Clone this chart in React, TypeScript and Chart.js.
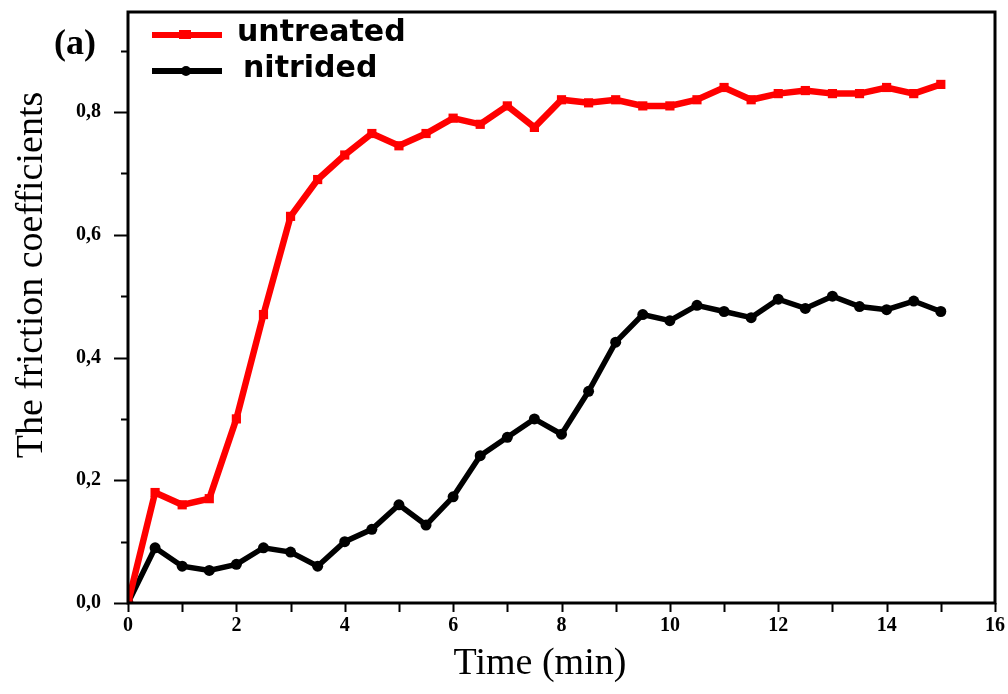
import React, { useEffect, useRef } from "react";
import { Chart, registerables } from "chart.js";

Chart.register(...registerables);

const timeMin = [0, 0.5, 1, 1.5, 2, 2.5, 3, 3.5, 4, 4.5, 5, 5.5, 6, 6.5, 7, 7.5, 8, 8.5, 9, 9.5, 10, 10.5, 11, 11.5, 12, 12.5, 13, 13.5, 14, 14.5, 15];
const untreated = [0, 0.18, 0.16, 0.17, 0.3, 0.47, 0.63, 0.69, 0.73, 0.765, 0.745, 0.765, 0.79, 0.78, 0.81, 0.775, 0.82, 0.815, 0.82, 0.81, 0.81, 0.82, 0.84, 0.82, 0.83, 0.835, 0.83, 0.83, 0.84, 0.83, 0.845];
const nitrided = [0, 0.09, 0.06, 0.053, 0.063, 0.09, 0.083, 0.06, 0.1, 0.12, 0.16, 0.127, 0.173, 0.24, 0.27, 0.3, 0.275, 0.345, 0.425, 0.47, 0.46, 0.485, 0.475, 0.465, 0.495, 0.48, 0.5, 0.483, 0.478, 0.492, 0.475];
const xTickValues = [0, 1, 2, 3, 4, 5, 6, 7, 8, 9, 10, 11, 12, 13, 14, 15, 16];
const yTickValues = [0, 0.1, 0.2, 0.3, 0.4, 0.5, 0.6, 0.7, 0.8, 0.9];
const seriesNames = ["untreated", "nitrided"];
const seriesColors = ["#ff0000", "#000000"];
const panelLabel = "(a)";
const xTitle = "Time (min)";
const yTitle = "The friction coefficients";

const isMajorY = (v: number) => Math.round(v * 10) % 2 === 0;

const decor = {
  id: "decor",
  afterDraw(chart: any) {
    const { ctx, chartArea: a, scales } = chart;
    const xs = scales.x;
    const ys = scales.y;
    ctx.save();
    ctx.strokeStyle = "#000";
    ctx.lineWidth = 3;
    ctx.strokeRect(a.left, a.top, a.right - a.left, a.bottom - a.top);
    ctx.lineWidth = 2;
    ctx.beginPath();
    yTickValues.forEach((v) => {
      const p = Math.round(ys.getPixelForValue(v)) + 0.5;
      const len = isMajorY(v) ? 14 : 7;
      ctx.moveTo(a.left - len, p);
      ctx.lineTo(a.left, p);
    });
    xTickValues.forEach((v) => {
      const p = Math.round(xs.getPixelForValue(v)) + 0.5;
      ctx.moveTo(p, a.bottom);
      ctx.lineTo(p, a.bottom + 9);
    });
    ctx.stroke();

    // titles
    ctx.fillStyle = "#000";
    ctx.font = "38px 'Liberation Serif', serif";
    ctx.textAlign = "center";
    ctx.textBaseline = "middle";
    ctx.fillText(xTitle, 540, 664);
    ctx.save();
    ctx.translate(32, 275);
    ctx.rotate(-Math.PI / 2);
    ctx.font = "38px 'Liberation Serif', serif";
    ctx.fillText(yTitle, 0, 0);
    ctx.restore();

    ctx.font = "bold 36px 'Liberation Serif', serif";
    ctx.textAlign = "left";
    ctx.fillText(panelLabel, 54, 45);

    // legend
    const ds = chart.data.datasets;
    const rows = [35, 71];
    rows.forEach((yy, i) => {
      ctx.strokeStyle = seriesColors[i];
      ctx.lineWidth = 6;
      ctx.beginPath();
      ctx.moveTo(152, yy);
      ctx.lineTo(222, yy);
      ctx.stroke();
      ctx.fillStyle = seriesColors[i];
      if (i === 0) {
        ctx.fillRect(179, yy - 5, 12, 9);
      } else {
        ctx.beginPath();
        ctx.arc(186, yy, 5, 0, Math.PI * 2);
        ctx.fill();
      }
      ctx.fillStyle = "#000";
      ctx.font = "bold 30px 'DejaVu Sans', sans-serif";
      ctx.textBaseline = "middle";
      ctx.fillText(ds[i].label, i === 0 ? 237 : 243, yy - 2);
    });
    ctx.restore();
  },
};

export default function App() {
  const ref = useRef<HTMLCanvasElement>(null);
  useEffect(() => {
    if (!ref.current) return;
    const mk = (vals: number[]) => timeMin.map((t, i) => ({ x: t, y: vals[i] }));
    const chart = new Chart(ref.current, {
      type: "line",
      data: {
        datasets: [
          {
            label: seriesNames[0],
            data: mk(untreated),
            borderColor: seriesColors[0],
            backgroundColor: seriesColors[0],
            borderWidth: 6.5,
            pointStyle: "rect",
            pointRadius: 6.5,
            pointBorderWidth: 0,
            tension: 0,
          },
          {
            label: seriesNames[1],
            data: mk(nitrided),
            borderColor: seriesColors[1],
            backgroundColor: seriesColors[1],
            borderWidth: 5.5,
            pointStyle: "circle",
            pointRadius: 5.5,
            pointBorderWidth: 0,
            tension: 0,
          },
        ],
      },
      options: {
        responsive: false,
        animation: false,
        layout: { padding: { left: 0, top: 12, right: 13, bottom: 0 } },
        plugins: { legend: { display: false }, tooltip: { enabled: false } },
        scales: {
          x: {
            type: "linear",
            min: 0,
            max: 16,
            afterBuildTicks: (s: any) => {
              s.ticks = xTickValues.map((v) => ({ value: v }));
            },
            afterFit: (s: any) => {
              s.height = 91;
            },
            grid: { drawOnChartArea: false, drawTicks: true, tickLength: 11, tickColor: "rgba(0,0,0,0)" },
            border: { display: false },
            ticks: {
              autoSkip: false,
              maxRotation: 0,
              padding: 0,
              color: "#000",
              font: { family: "'Liberation Serif', serif", size: 20, weight: "bold" },
              callback: (v: any) => (Number(v) % 2 === 0 ? String(v) : ""),
            },
          },
          y: {
            type: "linear",
            min: 0,
            max: 0.963,
            afterBuildTicks: (s: any) => {
              s.ticks = yTickValues.map((v) => ({ value: v }));
            },
            afterFit: (s: any) => {
              s.width = 128;
            },
            grid: { drawOnChartArea: false, drawTicks: true, tickLength: 27, tickColor: "rgba(0,0,0,0)" },
            border: { display: false },
            ticks: {
              autoSkip: false,
              padding: 0,
              color: "#000",
              font: { family: "'Liberation Serif', serif", size: 20, weight: "bold" },
              callback: (v: any) => (isMajorY(Number(v)) ? Number(v).toFixed(1).replace(".", ",") : ""),
            },
          },
        },
      },
      plugins: [decor],
    });
    return () => chart.destroy();
  }, []);
  return (
    <div style={{ position: "absolute", left: 0, top: 0, width: 1008, height: 694, background: "#fff" }}>
      <canvas ref={ref} width={1008} height={694} style={{ display: "block" }} />
    </div>
  );
}
